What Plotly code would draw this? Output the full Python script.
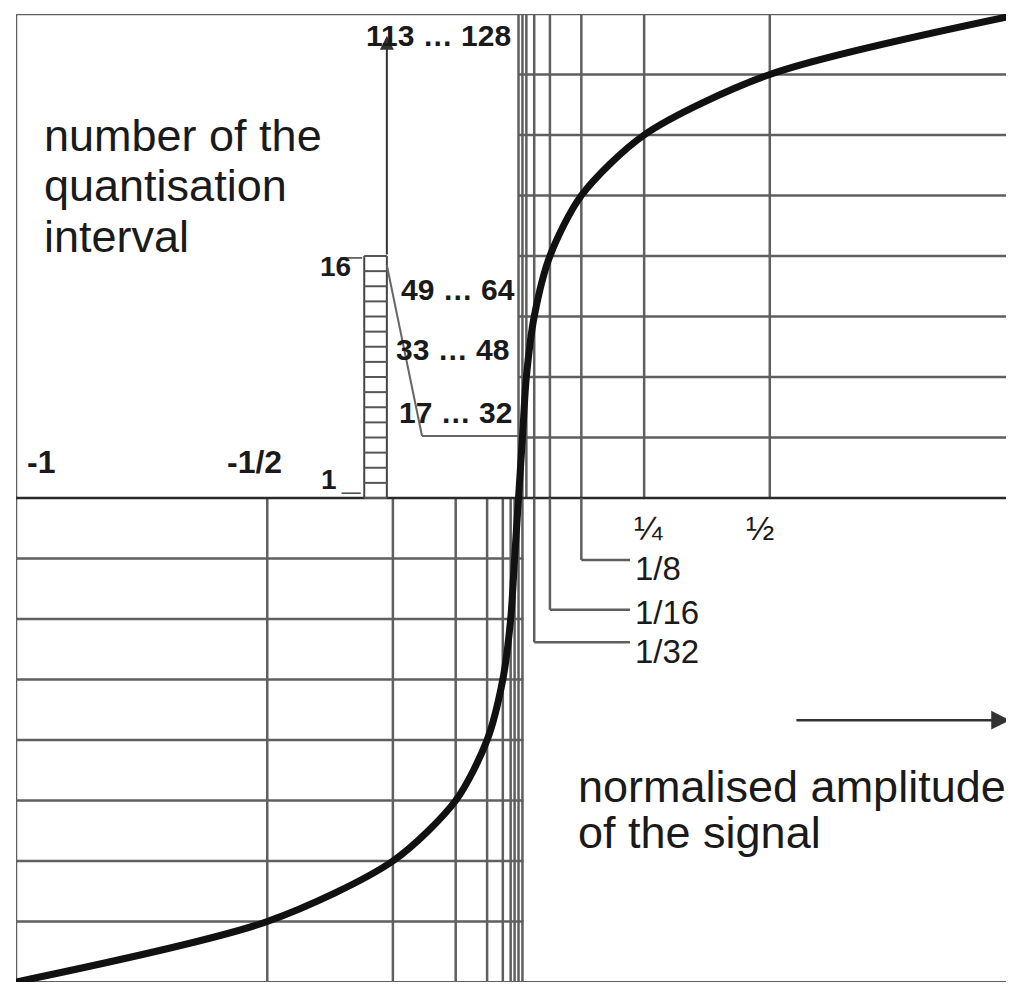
import plotly.graph_objects as go

# segment boundaries of the compander (positive amplitudes) and the levels they reach
amp_breaks = [1/128, 1/64, 1/32, 1/16, 1/8, 1/4, 1/2]
seg_levels = [1/8, 2/8, 3/8, 4/8, 5/8, 6/8, 7/8]

# characteristic curve
curve_x = [-1, -1/2, -1/4, -1/8, -1/16, -1/32, -1/64, -1/128, 0,
           1/128, 1/64, 1/32, 1/16, 1/8, 1/4, 1/2, 1]
curve_y = [-1, -7/8, -6/8, -5/8, -4/8, -3/8, -2/8, -1/8, 0,
           1/8, 2/8, 3/8, 4/8, 5/8, 6/8, 7/8, 1]

# the 16 quantisation intervals of one segment, drawn as a ladder
ladder_steps = [0, 1, 2, 3, 4, 5, 6, 7, 8, 9, 10, 11, 12, 13, 14, 15, 16]

# labels
x_labels_neg = ["-1", "-1/2"]
x_labels_pos = ["¼", "½"]
leader_labels = ["1/8", "1/16", "1/32"]
interval_labels = ["17 … 32", "33 … 48", "49 … 64", "113 … 128"]

FONT = "Liberation Sans, Arial, sans-serif"
GRID = "#5f5f5f"
INK = "#1a1a1a"

fig = go.Figure()


def line(x0, y0, x1, y1, color=GRID, width=2.5):
    fig.add_shape(type="line", x0=x0, y0=y0, x1=x1, y1=y1,
                  line=dict(color=color, width=width), layer="below")


def text(s, x, y, size, bold=False, xanchor="center"):
    fig.add_annotation(x=x, y=y, text=f"<b>{s}</b>" if bold else s,
                       showarrow=False, xanchor=xanchor, yanchor="middle",
                       font=dict(family=FONT, size=size, color=INK))


# frame
line(-1, -1, -1, 1)
line(-1, 1, 1, 1)
line(-1, -1, 1, -1, width=2)
line(0, -1, 0, 1)

# upper right grid
for a in amp_breaks:
    line(a, 0, a, 1)
for lv in seg_levels:
    line(0, lv, 1, lv)

# lower left grid (mirrored)
for a in amp_breaks:
    line(-a, -1, -a, 0)
for lv in seg_levels:
    line(-1, -lv, 0.01, -lv)
line(amp_breaks[0], -1, amp_breaks[0], 0)

# zero line
line(-1, 0, 1, 0, color="#2a2a2a", width=2.5)

# leaders to 1/8, 1/16, 1/32
leader_amp = [1/8, 1/16, 1/32]
leader_y = [-0.128, -0.231, -0.298]
label_y = [-0.146, -0.236, -0.318]
for a, yy, ly, lab in zip(leader_amp, leader_y, label_y, leader_labels):
    line(a, 0, a, yy)
    line(a, yy, 0.222, yy)
    text(lab, 0.228, ly, 33, xanchor="left")

# ladder of 16 intervals
lad_l, lad_r = -0.307, -0.262
line(lad_l, 0, lad_l, 0.5, color="#444", width=2)
line(lad_r, 0, lad_r, 0.5, color="#444", width=2)
for k in ladder_steps:
    yy = k / 32
    line(lad_l, yy, lad_r, yy, color="#555", width=2)

# expansion line from the ladder to the first segment
line(lad_r, 0.481, -0.192, 0.128, color="#666", width=2)
line(-0.192, 0.128, 0.005, 0.128, color="#666", width=2)
line(-0.355, 0.496, -0.311, 0.496, color="#444", width=1.5)
line(-0.352, 0.010, -0.314, 0.010, color="#444", width=1.5)

# arrow up to 113 ... 128
fig.add_annotation(x=lad_r, y=0.955, ax=lad_r, ay=0.5, axref="x", ayref="y",
                   xref="x", yref="y", text="", showarrow=True, arrowhead=2,
                   arrowsize=1.4, arrowwidth=2, arrowcolor="#333")

# arrow along the amplitude axis
fig.add_annotation(x=0.978, y=-0.459, ax=0.55, ay=-0.459, axref="x", ayref="y",
                   xref="x", yref="y", text="", showarrow=True, arrowhead=2,
                   arrowsize=1.5, arrowwidth=2.5, arrowcolor="#333")

# characteristic
fig.add_trace(go.Scatter(
    x=curve_x, y=curve_y, mode="lines",
    line=dict(color="#111", width=7, shape="spline", smoothing=0.8),
    hoverinfo="skip", showlegend=False,
))

# labels
text(x_labels_neg[0], -0.950, 0.074, 32, bold=True)
text(x_labels_neg[1], -0.526, 0.074, 32, bold=True)
text(x_labels_pos[0], 0.258, -0.062, 34)
text(x_labels_pos[1], 0.480, -0.062, 34)

text(interval_labels[0], -0.126, 0.176, 30, bold=True)
text(interval_labels[1], -0.132, 0.306, 30, bold=True)
text(interval_labels[2], -0.120, 0.430, 30, bold=True)
text(interval_labels[3], -0.160, 0.955, 30, bold=True)
text("16", -0.365, 0.478, 28, bold=True)
text("1", -0.377, 0.039, 28, bold=True)

text("number of the", -0.948, 0.750, 45, xanchor="left")
text("quantisation", -0.948, 0.645, 45, xanchor="left")
text("interval", -0.948, 0.540, 45, xanchor="left")

text("normalised amplitude", 0.115, -0.597, 45, xanchor="left")
text("of the signal", 0.115, -0.692, 45, xanchor="left")

# the page body adds an 8px margin, so the figure is sized to fit inside it
fig.update_layout(
    width=1006,
    height=980,
    margin=dict(l=8, r=0, t=6, b=6),
    paper_bgcolor="white",
    plot_bgcolor="white",
    showlegend=False,
    xaxis=dict(range=[-1, 0.986], visible=False, fixedrange=True),
    yaxis=dict(range=[-1, 1], visible=False, fixedrange=True),
)

fig.write_html("out.html")
